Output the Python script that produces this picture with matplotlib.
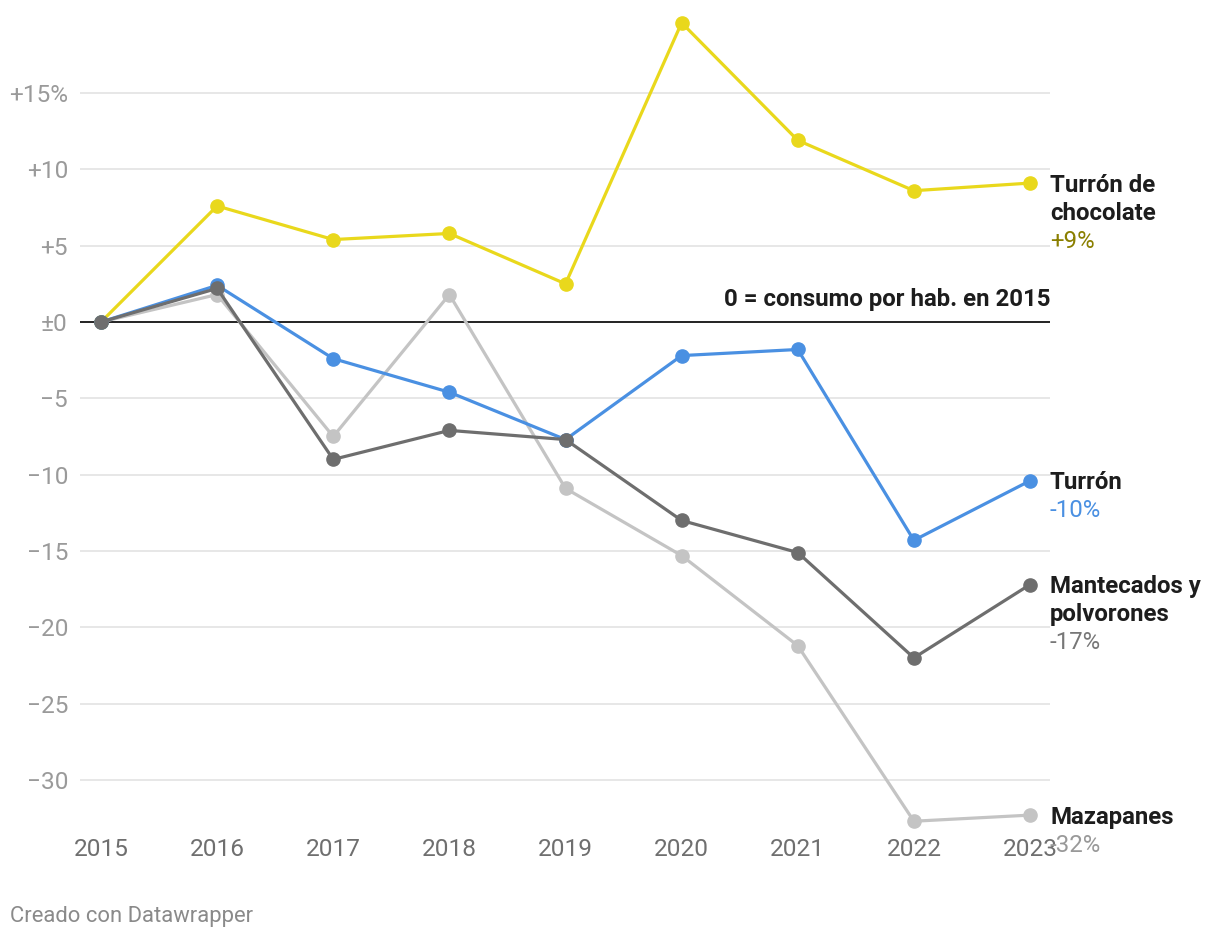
import matplotlib
matplotlib.use("Agg")
import matplotlib.pyplot as plt

years = [2015, 2016, 2017, 2018, 2019, 2020, 2021, 2022, 2023]
choco = [0, 7.6, 5.4, 5.8, 2.5, 19.6, 11.9, 8.6, 9.1]
turron = [0, 2.4, -2.4, -4.6, -7.7, -2.2, -1.8, -14.3, -10.4]
mantecados = [0, 2.2, -9.0, -7.1, -7.7, -13.0, -15.1, -22.0, -17.2]
mazapanes = [0, 1.8, -7.5, 1.8, -10.9, -15.3, -21.2, -32.7, -32.3]

y_ticks = [15, 10, 5, 0, -5, -10, -15, -20, -25, -30]
y_tick_labels = ["+15%", "+10", "+5", "±0", "−5", "−10", "−15", "−20", "−25", "−30"]

series = [
    # name lines, value label, data, line colour, value colour, zorder
    (["Mazapanes"], "-32%", mazapanes, "#c4c4c4", "#999999", 2),
    (["Turrón de", "chocolate"], "+9%", choco, "#e9d81c", "#8a7f00", 3),
    (["Turrón"], "-10%", turron, "#4a90e2", "#4a90e2", 4),
    (["Mantecados y", "polvorones"], "-17%", mantecados, "#6e6e6e", "#777777", 5),
]

plt.rcParams['font.family'] = ['Roboto', 'DejaVu Sans']

W, H = 1220, 938
fig = plt.figure(figsize=(W / 100, H / 100), dpi=100)
left, right, top, bottom = 80, 1050, 10, 830
ax = fig.add_axes([left / W, 1 - bottom / H, (right - left) / W, (bottom - top) / H])

px_per_year = (1030 - 101) / 8
ax.set_xlim(2015 - 21 / px_per_year, 2023 + 20 / px_per_year)
px_per_unit = 229 / 15
ax.set_ylim(-(bottom - 322) / px_per_unit, (322 - top) / px_per_unit)

for s in ax.spines.values():
    s.set_visible(False)
ax.set_yticks(y_ticks)
ax.set_yticklabels(y_tick_labels)
ax.set_xticks(years)
ax.set_xticklabels([str(y) for y in years])
ax.tick_params(axis='y', length=0, pad=8.6, labelsize=17.6, labelcolor="#9a9a9a")
ax.tick_params(axis='x', length=0, pad=5.5, labelsize=17.6, labelcolor="#6f6f6f")
for t in y_ticks:
    if t != 0:
        ax.axhline(t, color="#e3e3e3", lw=1.2, zorder=0)
ax.axhline(0, color="#111111", lw=1.3, zorder=1)
ax.text(1.0, 0.7, "0 = consumo por hab. en 2015", transform=ax.get_yaxis_transform(),
        ha="right", va="bottom", fontsize=17.3, fontweight="bold", color="#1d1d1d")

line_step = 28 * 0.72
y0 = -1.5
for names, val, data, col, vcol, z in series:
    ax.plot(years, data, color=col, lw=2.3, marker="o", markersize=9.5, zorder=z,
            solid_capstyle="round", clip_on=False)
    for i, nm in enumerate(names):
        ax.annotate(nm, (years[-1], data[-1]), xytext=(14.4, y0 - i * line_step),
                    textcoords="offset points", ha="left", va="center",
                    fontsize=17.3, fontweight="bold", color="#1d1d1d",
                    annotation_clip=False)
    ax.annotate(val, (years[-1], data[-1]), xytext=(14.4, y0 - len(names) * line_step),
                textcoords="offset points", ha="left", va="center",
                fontsize=17.3, color=vcol, annotation_clip=False)

fig.text(10 / W, 1 - 916 / H, "Creado con Datawrapper", ha="left", va="center",
         fontsize=15.8, color="#8a8a8a")

fig.savefig("out.png", dpi=100, facecolor="white")
